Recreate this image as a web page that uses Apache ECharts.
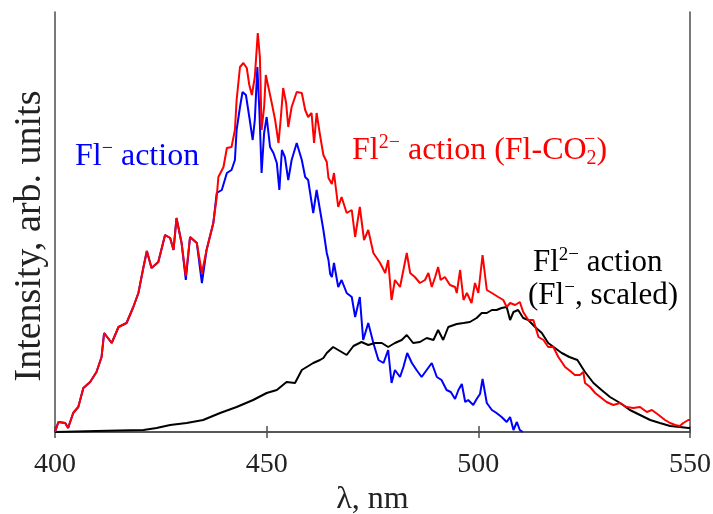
<!DOCTYPE html>
<html>
<head>
<meta charset="utf-8">
<script src="https://cdn.jsdelivr.net/npm/echarts@6/dist/echarts.min.js"></script>
<style>
html,body{margin:0;padding:0;background:#fff;}
#chart{width:713px;height:514px;}
</style>
</head>
<body>
<div id="chart"></div>
<script>
// ---- data (wavelength in nm, intensity in arbitrary units) ----
const xTicks = [400, 450, 500, 550];

const redX = [400.0,400.8,402.4,403.1,404.3,405.5,406.7,408.3,409.8,411.0,411.6,413.4,415.0,416.9,418.5,419.7,420.9,421.7,422.8,424.4,426.0,427.2,428.0,428.7,429.9,430.9,431.9,433.5,434.7,435.8,437.4,438.2,438.6,439.8,440.6,441.7,442.5,442.9,443.7,444.5,445.3,445.9,446.5,447.2,447.9,448.4,448.8,449.4,449.8,450.4,451.2,452.0,452.8,453.3,453.9,454.6,455.1,455.9,457.1,458.3,459.1,459.8,460.6,461.2,461.8,462.6,463.4,464.2,464.6,465.4,465.9,466.9,467.7,468.9,470.1,470.9,472.0,473.0,474.0,475.2,476.8,478.0,478.7,479.5,480.3,481.5,482.3,483.1,483.9,485.0,486.2,487.4,488.2,489.0,489.8,490.5,491.1,492.1,493.3,494.5,494.9,495.7,496.5,497.3,498.4,499.2,500.0,501.0,502.0,503.2,504.7,505.9,506.7,507.5,508.7,509.8,510.6,511.8,513.0,514.2,515.4,516.5,517.7,518.9,520.5,521.7,522.8,524.0,524.8,525.2,526.4,527.6,528.8,530.3,531.9,533.5,535.0,536.6,538.2,539.8,541.0,542.6,544.1,545.3,546.5,547.6,548.4,549.6,550.0];
const redY = [0,10,9,4,19,25,44,50,60,75,99,89,105,109,125,139,165,181,164,170,197,194,182,214,189,156,195,189,159,182,209,235,255,265,284,285,302,332,365,369,364,347,337,355,399,375,302,325,357,345,329,312,289,312,344,329,305,325,340,339,322,315,319,289,319,297,277,270,254,248,259,225,235,219,222,195,225,192,202,179,169,159,172,132,152,145,162,179,159,155,149,152,159,145,155,165,152,155,147,145,139,162,132,139,129,149,139,177,142,139,135,132,125,129,127,130,120,112,112,95,92,85,85,75,65,61,57,57,60,49,45,39,35,30,27,29,25,24,25,20,22,17,12,9,7,6,9,12,12];

const blueX = [400.0,400.8,402.4,403.1,404.3,405.5,406.7,408.3,409.8,411.0,411.6,413.4,415.0,416.9,418.5,419.7,420.9,421.7,422.8,424.4,426.0,427.2,428.0,428.7,429.9,430.9,431.9,433.5,434.7,435.8,437.4,438.2,439.4,440.6,441.7,442.5,442.9,443.7,444.3,445.1,445.9,446.7,447.2,447.8,448.3,448.8,449.4,450.0,450.8,451.6,452.4,453.0,453.6,454.3,455.1,455.9,457.1,458.3,459.1,459.8,461.0,461.8,462.6,463.4,464.2,464.6,465.0,465.4,465.9,466.9,467.7,468.9,470.1,470.9,472.0,472.8,474.0,475.2,476.4,477.6,478.7,479.5,480.3,481.5,482.3,483.2,484.3,485.4,486.6,487.8,489.0,490.2,491.3,492.5,493.5,494.5,495.3,496.1,496.9,497.6,498.8,499.6,500.4,501.0,502.0,503.2,504.3,505.5,506.7,507.5,508.3,509.1,509.8,510.5];
const blueY = [0,10,9,4,19,25,44,50,60,75,99,89,105,109,125,139,165,181,164,170,197,194,182,214,189,152,195,189,149,182,209,239,242,259,262,272,302,325,340,337,315,292,312,365,319,259,299,315,285,279,269,242,282,275,252,272,289,272,255,252,219,242,222,202,179,172,158,155,169,145,152,139,135,115,135,92,109,89,72,69,82,49,62,55,65,79,69,62,55,62,69,55,52,42,40,33,42,48,30,32,27,33,38,53,29,22,19,15,10,15,2,10,2,0];

const blackX = [400.0,405.0,409.8,415.0,420.9,424.0,427.2,431.1,435.0,439.0,442.9,446.8,450.0,452.4,454.7,456.7,458.3,461.0,462.6,463.4,464.2,465.7,467.3,468.9,470.5,472.4,474.0,475.6,477.2,478.7,480.3,481.9,483.1,484.6,486.2,487.8,489.4,490.5,491.7,492.9,494.9,496.5,498.0,499.6,500.8,502.0,503.2,504.3,505.5,506.7,507.5,508.3,509.4,510.6,511.8,513.4,515.0,516.5,518.1,519.7,521.5,523.4,525.2,527.2,529.1,531.1,533.5,535.8,538.2,540.6,542.9,545.3,547.6,549.6,550.0];
const blackY = [0,0.5,1,1.5,2,4,7,9,12,19,25,32,39,42,50,49,62,69,72,74,79,85,81,77,86,90,87,89,89,85,89,92,97,89,90,94,92,102,92,105,108,109,110,114,119,119,122,122,124,125,112,120,122,114,112,105,99,89,84,79,75,72,60,49,42,35,29,22,17,12,9,6,5,4,4];

const pairs = (xs, ys) => xs.map((x, i) => [x, ys[i]]);

const FONT = 'Liberation Serif';
const frameColor = '#4d4d4d';

const chart = echarts.init(document.getElementById('chart'), null, {renderer: 'canvas'});

const rich = (color, size) => ({
  n: {fontFamily: FONT, fontSize: size, fill: color, color: color, lineHeight: size + 4},
  sup: {fontFamily: FONT, fontSize: Math.round(size * 0.62), fill: color, color: color, verticalAlign: 'top', lineHeight: Math.round(size * 0.62)},
  sub: {fontFamily: FONT, fontSize: Math.round(size * 0.62), fill: color, color: color, verticalAlign: 'bottom', lineHeight: Math.round(size * 0.62)}
});

chart.setOption({
  animation: false,
  backgroundColor: '#fff',
  grid: {left: 55, right: 23, top: 12, bottom: 82, containLabel: false, outerBoundsMode: 'none'},
  xAxis: [{
    type: 'value', min: 400, max: 550, interval: 50,
    name: 'λ, nm', nameLocation: 'middle', nameGap: 52,
    nameTextStyle: {fontFamily: FONT, fontSize: 32, color: '#222'},
    axisLine: {lineStyle: {color: frameColor, width: 1.5}},
    axisTick: {inside: true, length: 6, lineStyle: {color: frameColor, width: 1.5}},
    axisLabel: {fontFamily: FONT, fontSize: 28, color: '#222', margin: 19,
      formatter: (v) => xTicks.includes(v) ? String(v) : ''},
    splitLine: {show: false}
  }, {
    type: 'value', min: 400, max: 550, interval: 50, position: 'top',
    axisLine: {lineStyle: {color: frameColor, width: 1.5}},
    axisTick: {inside: true, length: 6, lineStyle: {color: frameColor, width: 1.5}},
    axisLabel: {show: false}, splitLine: {show: false}
  }],
  yAxis: [{
    type: 'value', min: 0, max: 420,
    axisLine: {show: true, lineStyle: {color: frameColor, width: 1.5}},
    axisTick: {show: false}, axisLabel: {show: false}, splitLine: {show: false}
  }, {
    type: 'value', min: 0, max: 420, position: 'right',
    axisLine: {show: true, lineStyle: {color: frameColor, width: 1.5}},
    axisTick: {show: false}, axisLabel: {show: false}, splitLine: {show: false}
  }],
  series: [{
    name: 'Fl- action', type: 'line', data: pairs(blueX, blueY),
    showSymbol: false, lineStyle: {color: '#0000ff', width: 2}, itemStyle: {color: '#0000ff'}, z: 2
  }, {
    name: 'Fl2- action (Fl-, scaled)', type: 'line', data: pairs(blackX, blackY),
    showSymbol: false, lineStyle: {color: '#000000', width: 2}, itemStyle: {color: '#000'}, z: 3
  }, {
    name: 'Fl2- action (Fl-CO2-)', type: 'line', data: pairs(redX, redY),
    showSymbol: false, lineStyle: {color: '#ff0000', width: 2}, itemStyle: {color: '#f00'}, z: 4
  }],
  graphic: [{
    type: 'text', x: 30, y: 236, rotation: Math.PI / 2, z: 10,
    style: {text: 'Intensity, arb. units', fontFamily: FONT, fontSize: 38, fill: '#222', align: 'center', verticalAlign: 'middle'}
  }, {
    type: 'text', x: 75, y: 157, z: 10,
    style: {text: '{n|Fl}{sup|−}{n| action}', rich: rich('#0000ff', 32), fill: '#0000ff', align: 'left', verticalAlign: 'middle'}
  }, {
    type: 'text', x: 352, y: 151, z: 10,
    style: {text: '{n|Fl}{sup|2−}{n| action (Fl-CO}{sub|2}{n|)}', rich: rich('#ff0000', 32), fill: '#ff0000', align: 'left', verticalAlign: 'middle'}
  }, {
    type: 'text', x: 584, y: 140, z: 10,
    style: {text: '−', fontFamily: FONT, fontSize: 20, fill: '#ff0000', align: 'left', verticalAlign: 'middle'}
  }, {
    type: 'text', x: 533, y: 263, z: 10,
    style: {text: '{n|Fl}{sup|2−}{n| action}', rich: rich('#000000', 31), fill: '#000', align: 'left', verticalAlign: 'middle'}
  }, {
    type: 'text', x: 528, y: 296, z: 10,
    style: {text: '{n|(Fl}{sup|−}{n|, scaled)}', rich: rich('#000000', 31), fill: '#000', align: 'left', verticalAlign: 'middle'}
  }]
});
</script>
</body>
</html>
